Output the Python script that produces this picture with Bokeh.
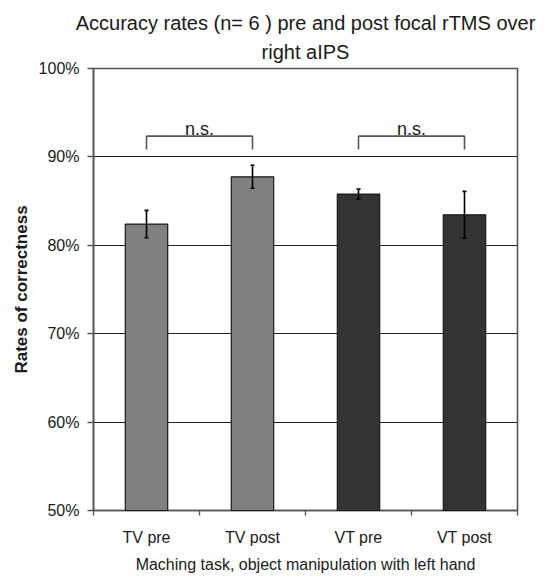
from bokeh.plotting import figure
from bokeh.models import (Range1d, FixedTicker, Whisker, ColumnDataSource, TeeHead, Title)
from bokeh.core.properties import value
from bokeh.embed import file_html
from bokeh.resources import INLINE

# ---- data ----
categories = ["TV pre", "TV post", "VT pre", "VT post"]
means = [82.4, 87.75, 85.8, 83.45]
sem = [1.55, 1.3, 0.55, 2.65]
bar_colors = ["#808080", "#808080", "#333333", "#333333"]
y_ticks = [50, 60, 70, 80, 90, 100]
y_tick_labels = ["50%", "60%", "70%", "80%", "90%", "100%"]
comparisons = [(0, 1, "n.s."), (2, 3, "n.s.")]
title_line1 = "Accuracy rates (n= 6 ) pre and post focal rTMS over"
title_line2 = "right aIPS"
x_label = "Maching task, object manipulation with left hand"
y_label = "Rates of correctness"

FONT = "Liberation Sans"
TXT = "#1a1a1a"

xs = [i + 0.5 for i in range(len(categories))]

p = figure(frame_width=424, frame_height=442, output_backend="svg", toolbar_location=None,
           x_range=Range1d(0, len(categories)), y_range=Range1d(50, 100),
           min_border_left=93, min_border_right=23, min_border_top=68, min_border_bottom=65)
p.background_fill_color = "white"
p.border_fill_color = "white"
p.outline_line_color = "#555555"
p.outline_line_width = 1.6

# two-line title, each line centred
p.add_layout(Title(text=title_line2, align="center", text_font=FONT, text_font_size="20px",
                   text_font_style="normal", text_color=TXT, standoff=11), "above")
p.add_layout(Title(text=title_line1, align="center", text_font=FONT, text_font_size="20px",
                   text_font_style="normal", text_color=TXT, standoff=0), "above")

src = ColumnDataSource(dict(x=xs, top=means, color=bar_colors,
                            upper=[m + s for m, s in zip(means, sem)],
                            lower=[m - s for m, s in zip(means, sem)]))

# grid
p.xgrid.visible = False
p.ygrid.ticker = FixedTicker(ticks=y_ticks[1:-1])
p.ygrid.grid_line_color = "#222222"
p.ygrid.grid_line_width = 1.2

p.vbar(x="x", top="top", bottom=50, width=0.4, source=src, fill_color="color",
       line_color="#1a1a1a", line_width=1.2, level="overlay")

w = Whisker(base="x", upper="upper", lower="lower", source=src, line_color="black", line_width=1.6,
            upper_head=TeeHead(size=4, line_color="black", line_width=1.6),
            lower_head=TeeHead(size=4, line_color="black", line_width=1.6), level="overlay")
p.add_layout(w)

# significance brackets
br_y = 92.35
br_drop = 1.5
for a, b, lab in comparisons:
    xa, xb = xs[a], xs[b]
    p.line([xa, xa, xb, xb], [br_y - br_drop, br_y, br_y, br_y - br_drop],
           line_color="#555555", line_width=1.6)
    p.text(x=[(xa + xb) / 2], y=[br_y + 0.75], text=[lab], text_align="center",
           text_baseline="alphabetic", text_font=value(FONT), text_font_size="18px",
           text_color=TXT)

# axes
yax = p.yaxis[0]
yax.ticker = FixedTicker(ticks=y_ticks)
yax.major_label_overrides = {t: l for t, l in zip(y_ticks, y_tick_labels)}
yax.major_tick_out = 6
yax.major_tick_in = 0
yax.minor_tick_line_color = None
yax.axis_line_color = "#555555"
yax.axis_line_width = 1.6
yax.major_tick_line_color = "#555555"
yax.major_tick_line_width = 1.4
yax.major_label_text_font = FONT
yax.major_label_text_font_size = "16px"
yax.major_label_text_color = TXT
yax.major_label_standoff = 8
yax.axis_label = y_label
yax.axis_label_text_font = FONT
yax.axis_label_text_font_size = "17px"
yax.axis_label_text_font_style = "bold"
yax.axis_label_text_color = TXT
yax.axis_label_standoff = 5

xax = p.xaxis[0]
xax.ticker = FixedTicker(ticks=xs, minor_ticks=list(range(len(categories) + 1)))
xax.major_label_overrides = {x: c for x, c in zip(xs, categories)}
xax.major_tick_line_color = None
xax.minor_tick_out = 5
xax.minor_tick_in = 0
xax.minor_tick_line_color = "#555555"
xax.minor_tick_line_width = 1.4
xax.axis_line_color = "#555555"
xax.axis_line_width = 1.6
xax.major_label_text_font = FONT
xax.major_label_text_font_size = "16px"
xax.major_label_text_color = TXT
xax.major_label_standoff = 12
xax.axis_label = x_label
xax.axis_label_text_font = FONT
xax.axis_label_text_font_size = "16px"
xax.axis_label_text_font_style = "normal"
xax.axis_label_text_color = TXT
xax.axis_label_standoff = 7

open("out.html", "w").write(file_html(p, INLINE))
